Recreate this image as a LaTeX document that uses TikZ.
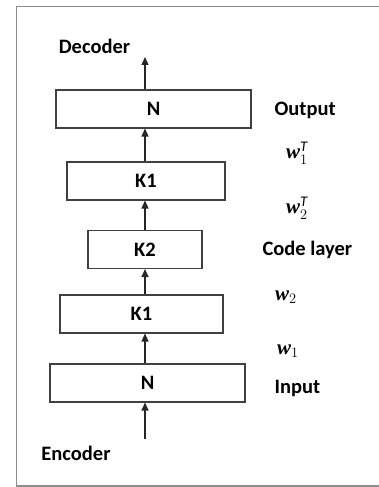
\documentclass[tikz,border=0pt]{standalone}
\usepackage{fontspec}
\setmainfont{Carlito}
\newfontfamily\wfont{Liberation Serif}
\usetikzlibrary{arrows.meta}

\tikzset{
        txt/.style={font=\fontsize{20.5}{24}\selectfont\bfseries},
        layer/.style={txt, draw=black!75, line width=1.1pt, minimum height=38pt, inner sep=0pt},
        side/.style={txt, anchor=west},
        wlab/.style={anchor=west, inner sep=0pt, font=\fontsize{21}{24}\selectfont\wfont\bfseries\itshape},
        flow/.style={-{Triangle[length=8pt,width=7pt]}, line width=1.3pt, black!85},
}

\begin{document}
\begin{tikzpicture}[x=1pt, y=1pt]
        \useasboundingbox (0,0) rectangle (379,487);
        \draw [black!45, line width=1.2pt] (380,480.5) -- (16.5,480.5) -- (16.5,1) -- (380,1);
        % boxes
        \node (out) [layer, minimum width=195pt] at (153.5,378) {N};
        \node (ka) [layer, minimum width=158pt] at (146,306) {K1};
        \node (kc) [layer, minimum width=114pt] at (145,237.5) {K2};
        \node (kb) [layer, minimum width=163pt] at (141.5,173) {K1};
        \node (in) [layer, minimum width=195pt] at (147.5,104) {N};
        % end labels
        \node (dec) [txt] at (94.5,441) {Decoder};
        \node (enc) [txt] at (76,34) {Encoder};
        \coordinate (top) at (145,430);
        \coordinate (bot) at (145,48);
        % side labels
        \node (l0) [side] at (271,377) {Output};
        \node (l1) [wlab] at (286,334) {w$_1^{\mathit{T}}$};
        \node (l2) [wlab] at (286,279) {w$_2^{\mathit{T}}$};
        \node (l3) [side] at (259,237) {Code layer};
        \node (l4) [wlab] at (275,190) {w$_2$};
        \node (l5) [wlab] at (277,136) {w$_1$};
        \node (l6) [side] at (271,99) {Input};
        % arrows
        \draw [flow] (bot) -- (bot |- in.south);
        \draw [flow] (in.north -| bot) -- (kb.south -| bot);
        \draw [flow] (kb.north -| bot) -- (kc.south -| bot);
        \draw [flow] (kc.north -| bot) -- (ka.south -| bot);
        \draw [flow] (ka.north -| bot) -- (out.south -| bot);
        \draw [flow] (out.north -| top) -- (top);
\end{tikzpicture}
\end{document}
